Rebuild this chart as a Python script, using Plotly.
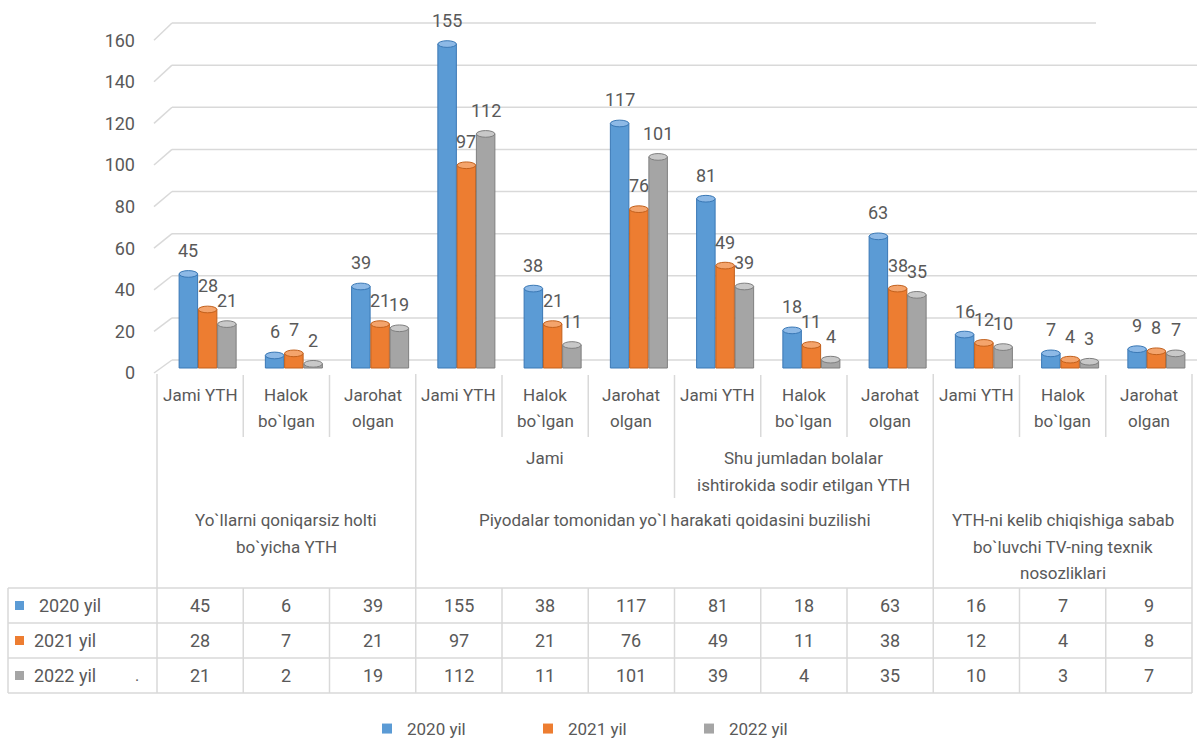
import plotly.graph_objects as go

# ---------------- data ----------------
sub_labels = [["Jami YTH"], ["Halok", "bo`lgan"], ["Jarohat", "olgan"]] * 4
mid_groups = [(["Jami"], 3, 6),
              (["Shu jumladan bolalar", "ishtirokida sodir etilgan YTH"], 6, 9)]
top_groups = [(["Yo`llarni qoniqarsiz holti", "bo`yicha YTH"], 0, 3),
              (["Piyodalar tomonidan yo`l harakati qoidasini buzilishi"], 3, 9),
              (["YTH-ni kelib chiqishiga sabab", "bo`luvchi TV-ning texnik", "nosozliklari"], 9, 12)]
series_names = ["2020 yil", "2021 yil", "2022 yil"]
v2020 = [45, 6, 39, 155, 38, 117, 81, 18, 63, 16, 7, 9]
v2021 = [28, 7, 21, 97, 21, 76, 49, 11, 38, 12, 4, 8]
v2022 = [21, 2, 19, 112, 11, 101, 39, 4, 35, 10, 3, 7]
y_ticks = [0, 20, 40, 60, 80, 100, 120, 140, 160]

series = [v2020, v2021, v2022]
colors = ["#5B9BD5", "#ED7D31", "#A5A5A5"]
edges = ["#3A78B5", "#C2601C", "#7F7F7F"]
tops = ["#8DB9E6", "#F4A46C", "#C8C8C8"]

W, H = 1197, 742
FONT = "Roboto, sans-serif"
TXT = "#595959"
GRID = "#D9D9D9"

def fx(p):
    return p / W

def fy(p):
    return 1 - p / H

X0, CW = 157.0, 86.25          # first column edge, column width (px)
def xb(i):
    return X0 + CW * i
def xc(i):
    return X0 + CW * (i + 0.5)

BARGAP, GROUPGAP = 0.33, 0.04
n = len(v2020)
fig = go.Figure()
for name, vals, c, e in zip(series_names, series, colors, edges):
    fig.add_trace(go.Bar(x=list(range(n)), y=vals, name=name, legendgroup=name,
                         showlegend=False,
                         marker=dict(color=c, line=dict(color=e, width=1)),
                         hoverinfo="skip"))
# legend entries with small square keys (as in the reference)
for name, c in zip(series_names, colors):
    fig.add_trace(go.Scatter(x=[None], y=[None], mode="markers", name=name, legendgroup=name,
                             marker=dict(symbol="square", size=10, color=c),
                             hoverinfo="skip"))

shapes = []
annotations = []

# gridlines (3D style: front diagonal + back wall line)
for v in y_ticks:
    back = 6.25 + 1.0125 * v
    shapes.append(dict(type="line", xref="paper", yref="y2", x0=fx(154), x1=fx(172),
                       y0=v, y1=back, line=dict(color=GRID, width=1.5), layer="below"))
    shapes.append(dict(type="line", xref="paper", yref="y2", x0=fx(172),
                       x1=fx(1096 if v == y_ticks[-1] else W), y0=back, y1=back,
                       line=dict(color=GRID, width=1.5), layer="below"))

# cylinder tops + data labels
slot = (1 - BARGAP) / 3
half = slot * (1 - GROUPGAP) / 2
for s, vals in enumerate(series):
    for i, v in enumerate(vals):
        cxu = i + (s - 1) * slot
        shapes.append(dict(type="circle", xref="x", yref="y", x0=cxu - half, x1=cxu + half,
                           y0=v - 1.6, y1=v + 1.6, fillcolor=tops[s],
                           line=dict(color=edges[s], width=1)))
        annotations.append(dict(x=i, y=v, xref="x", yref="y", text=str(v), showarrow=False,
                                xshift=(s - 1) * slot * CW, yshift=11, yanchor="bottom",
                                font=dict(family=FONT, size=18, color=TXT)))

def line(x0, y0, x1, y1):
    shapes.append(dict(type="line", xref="paper", yref="paper", x0=fx(x0), x1=fx(x1),
                       y0=fy(y0), y1=fy(y1), line=dict(color=GRID, width=1.5)))

def text(x, y, t, size=17):
    annotations.append(dict(x=fx(x), y=fy(y), xref="paper", yref="paper", text=t,
                            showarrow=False, xanchor="center", yanchor="middle",
                            font=dict(family=FONT, size=size, color=TXT)))

# category axis labels
for i, lines in enumerate(sub_labels):
    for k, t in enumerate(lines):
        text(xc(i), 395 + 26 * k, t)
for lines, a, b in mid_groups:
    for k, t in enumerate(lines):
        text((xb(a) + xb(b)) / 2, 458 + 27 * k, t)
for lines, a, b in top_groups:
    for k, t in enumerate(lines):
        text((xb(a) + xb(b)) / 2, 520 + 26.5 * k, t)

# separators in category area
for i in range(1, n):
    if i in (3, 9):
        continue
    if i == 6:
        line(xb(i), 375, xb(i), 498)
    else:
        line(xb(i), 375, xb(i), 437)
for i in (0, 3, 9, 12):
    line(xb(i), 374, xb(i), 588)

# data table
T0, RH = 588, 35
for r in range(4):
    line(8, T0 + RH * r, xb(n), T0 + RH * r)
line(8, T0, 8, T0 + 3 * RH)
for i in range(n + 1):
    line(xb(i), T0, xb(i), T0 + 3 * RH)
label_x = [37, 32, 32]
for r, (name, vals, c) in enumerate(zip(series_names, series, colors)):
    yc = T0 + RH * (r + 0.5)
    shapes.append(dict(type="rect", xref="paper", yref="paper", x0=fx(15), x1=fx(24),
                       y0=fy(yc - 4.5), y1=fy(yc + 4.5), fillcolor=c, line=dict(width=0)))
    annotations.append(dict(x=fx(label_x[r]), y=fy(yc), xref="paper", yref="paper", text=name,
                            showarrow=False, xanchor="left", yanchor="middle",
                            font=dict(family=FONT, size=18, color=TXT)))
    for i, v in enumerate(vals):
        text(xc(i), yc, str(v), size=18)
text(137, T0 + RH * 2.5, ".", size=16)

fig.update_layout(
    width=W, height=H, autosize=False,
    margin=dict(l=0, r=0, t=0, b=0, autoexpand=False),
    paper_bgcolor="white", plot_bgcolor="rgba(0,0,0,0)",
    barmode="group", bargap=BARGAP, bargroupgap=GROUPGAP,
    xaxis=dict(domain=[fx(X0), fx(xb(n))], range=[-0.5 - 7.5 / CW, n - 0.5 - 7.5 / CW],
               visible=False, fixedrange=True),
    yaxis=dict(domain=[fy(380), fy(10)], range=[-12 / 2.09, 358 / 2.09],
               visible=False, fixedrange=True),
    yaxis2=dict(overlaying="y", anchor="free", position=fx(135), side="left",
                range=[-7 / 2.08, 363 / 2.08], tickvals=y_ticks, showgrid=False,
                zeroline=False, showline=False, ticks="",
                tickfont=dict(family=FONT, size=18, color=TXT), fixedrange=True),
    showlegend=True,
    legend=dict(orientation="h", x=fx(367), xanchor="left", y=fy(729), yanchor="middle",
                font=dict(family=FONT, size=17, color=TXT), entrywidth=116,
                entrywidthmode="pixels", traceorder="normal", bgcolor="rgba(0,0,0,0)",
                itemsizing="trace"),
    shapes=shapes, annotations=annotations,
)

fig.write_html(
    "out.html",
    config={"displayModeBar": False, "staticPlot": True},
    post_script=(
        "document.documentElement.style.margin='0';"
        "document.body.style.margin='0';"
        "document.documentElement.style.overflow='hidden';"
        "document.body.style.overflow='hidden';"
    ),
)
